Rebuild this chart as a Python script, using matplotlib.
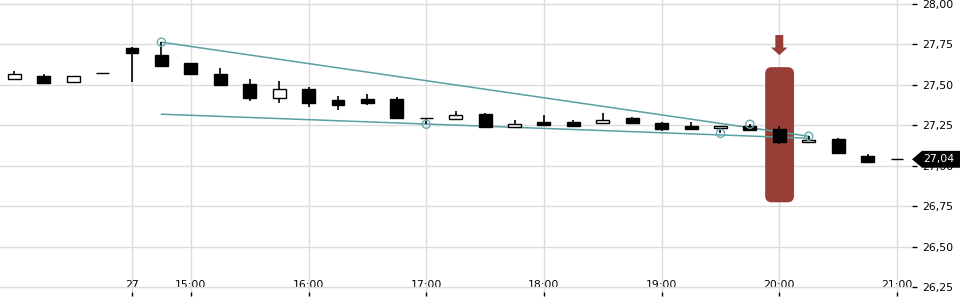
import matplotlib.pyplot as plt
import matplotlib.patches as mpatches
import matplotlib.transforms as mtransforms
import numpy as np

# 15-minute candles; index 0 = 14:30 on the 27th, negative = previous session
idx = np.arange(-4, 27)
opens = [27.534, 27.552, 27.515, 27.571, 27.725, 27.682, 27.633, 27.565, 27.503, 27.417,
         27.472, 27.404, 27.410, 27.410, 27.293, 27.287, 27.318, 27.238, 27.268, 27.268,
         27.262, 27.293, 27.262, 27.244, 27.231, 27.244, 27.225, 27.145, 27.164, 27.059, 27.040]
highs = [27.583, 27.565, 27.552, 27.571, 27.731, 27.762, 27.633, 27.602, 27.534, 27.522,
         27.485, 27.429, 27.441, 27.423, 27.293, 27.336, 27.324, 27.281, 27.312, 27.281,
         27.324, 27.299, 27.268, 27.268, 27.244, 27.256, 27.244, 27.182, 27.170, 27.071, 27.040]
lows = [27.534, 27.509, 27.515, 27.571, 27.515, 27.614, 27.565, 27.497, 27.398, 27.386,
        27.361, 27.343, 27.373, 27.293, 27.256, 27.287, 27.238, 27.238, 27.250, 27.244,
        27.262, 27.262, 27.213, 27.225, 27.200, 27.219, 27.133, 27.145, 27.071, 27.022, 27.040]
closes = [27.565, 27.509, 27.552, 27.571, 27.694, 27.614, 27.565, 27.497, 27.417, 27.472,
          27.386, 27.373, 27.386, 27.293, 27.293, 27.312, 27.238, 27.256, 27.250, 27.244,
          27.281, 27.262, 27.225, 27.225, 27.244, 27.219, 27.145, 27.157, 27.077, 27.022, 27.040]

tick_pos = [-5, 0, 2, 6, 10, 14, 18, 22, 26]
tick_labels = ['20:00', '27', '15:00', '16:00', '17:00', '18:00', '19:00', '20:00', '21:00']
y_ticks = [26.25, 26.50, 26.75, 27.00, 27.25, 27.50, 27.75, 28.00]

# trend lines and the pivot points they were drawn through
upper_x, upper_y = [1, 23], [27.762, 27.182]
lower_x, lower_y = [1, 23], [27.318, 27.170]
pivot_x = [1, 10, 20, 21, 23]
pivot_y = [27.762, 27.256, 27.200, 27.256, 27.182]

signal_idx = 22
signal_low, signal_high = 26.775, 27.608
last_price = 27.04

teal = '#5b9fa3'
red = '#983d36'
grid = '#dcdcdc'

fig = plt.figure(figsize=(9.6, 3), dpi=100)
ax = fig.add_axes([-29.8 / 960, 8 / 300, 941.8 / 960, 292 / 300])
ax.set_xlim(-5.5, 26.51)
ax.set_ylim(26.222, 28.022)

for s in ax.spines.values():
    s.set_visible(False)
ax.set_xticks(tick_pos)
ax.set_xticklabels(tick_labels)
ax.set_yticks(y_ticks)
ax.set_yticklabels([f'{v:.2f}'.replace('.', ',') for v in y_ticks])
ax.yaxis.tick_right()
ax.tick_params(axis='y', length=3.6, width=1, pad=3.6, labelsize=7.8, colors='black')
ax.tick_params(axis='x', length=3, width=1, pad=-11.5, labelsize=7.8, colors='black')
ax.grid(True, color=grid, linewidth=1)
ax.set_axisbelow(True)

# signal highlight + arrow
ax.add_patch(mpatches.FancyBboxPatch((signal_idx - 0.48, signal_low), 0.98, signal_high - signal_low,
                                     boxstyle='round,pad=0,rounding_size=0.22',
                                     mutation_aspect=0.185, fc=red, ec='none', zorder=2))
ax.add_patch(mpatches.FancyArrow(signal_idx, 27.806, 0, -0.124, width=0.27, head_width=0.56,
                                 head_length=0.047, length_includes_head=True,
                                 fc=red, ec='none', zorder=2))

# trend lines
ax.plot(upper_x, upper_y, color=teal, lw=1.1, zorder=3)
ax.plot(lower_x, lower_y, color=teal, lw=1.1, zorder=3)

# candles
o, h, l, c = map(np.array, (opens, highs, lows, closes))
ax.vlines(idx, l, h, color='black', lw=1.2, zorder=4)
bottom = np.minimum(o, c)
height = np.abs(c - o)
fills = ['black' if cc < oo else 'white' for oo, cc in zip(o, c)]
ax.bar(idx, height, bottom=bottom, width=0.44, color=fills, edgecolor='black',
       linewidth=1, zorder=5)

ax.scatter(pivot_x, pivot_y, s=34, facecolors='none', edgecolors='#6aaab2', lw=1, zorder=6)

# last price tag
blend = mtransforms.blended_transform_factory(fig.transFigure, ax.transData)
hh = 0.052
tag = mpatches.Polygon([(912 / 960, last_price), (922 / 960, last_price + hh), (1.0, last_price + hh),
                        (1.0, last_price - hh), (922 / 960, last_price - hh)],
                       closed=True, fc='black', ec='none', transform=blend, clip_on=False, zorder=10)
ax.add_patch(tag)
ax.text(923 / 960, last_price, f'{last_price:.2f}'.replace('.', ','), color='white', fontsize=7.8,
        va='center', ha='left', transform=blend, clip_on=False, zorder=11)

fig.savefig('out.png', dpi=100)
